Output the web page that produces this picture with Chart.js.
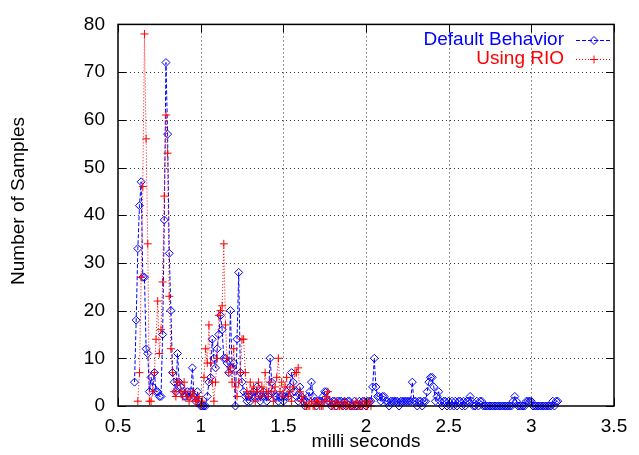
<!DOCTYPE html>
<html lang="en">
<head>
<meta charset="UTF-8">
<title>Default Behavior vs Using RIO</title>
<script src="https://cdn.jsdelivr.net/npm/chart.js"></script>
<style>
  body { margin: 0; background: #fff; }
  #wrap { width: 639px; height: 455px; }
</style>
</head>
<body>
<div id="wrap"><canvas id="chart" width="639" height="455"></canvas></div>
<script>
// histogram bins (milli seconds) and sample counts
const blueTimes = [
  0.60,0.61,0.62,0.63,0.64,0.65,0.66,0.67,0.68,0.69,
  0.70,0.71,0.72,0.73,0.74,0.75,0.76,0.77,0.78,0.79,
  0.80,0.81,0.82,0.83,0.84,0.85,0.86,0.87,0.88,0.89,
  0.90,0.91,0.92,0.93,0.94,0.95,0.96,0.97,0.98,0.99,
  1.00,1.01,1.02,1.03,1.04,1.05,1.06,1.07,1.08,1.09,
  1.10,1.11,1.12,1.13,1.14,1.15,1.16,1.17,1.18,1.19,
  1.20,1.21,1.22,1.23,1.24,1.25,1.26,1.27,1.28,1.29,
  1.30,1.31,1.32,1.33,1.34,1.35,1.36,1.37,1.38,1.39,
  1.40,1.41,1.42,1.43,1.44,1.45,1.46,1.47,1.48,1.49,
  1.50,1.51,1.52,1.53,1.54,1.55,1.56,1.57,1.58,1.59,
  1.60,1.61,1.62,1.63,1.64,1.65,1.66,1.67,1.68,1.69,
  1.70,1.71,1.72,1.73,1.74,1.75,1.76,1.77,1.78,1.79,
  1.80,1.81,1.82,1.83,1.84,1.85,1.86,1.87,1.88,1.89,
  1.90,1.91,1.92,1.93,1.94,1.95,1.96,1.97,1.98,1.99,
  2.00,2.01,2.02,2.03,2.04,2.05,2.06,2.07,2.08,2.09,
  2.10,2.11,2.12,2.13,2.14,2.15,2.16,2.17,2.18,2.19,
  2.20,2.21,2.22,2.23,2.24,2.25,2.26,2.27,2.28,2.29,
  2.30,2.31,2.32,2.33,2.34,2.35,2.36,2.37,2.38,2.39,
  2.40,2.41,2.42,2.43,2.44,2.45,2.46,2.47,2.48,2.49,
  2.50,2.51,2.52,2.53,2.54,2.55,2.56,2.57,2.58,2.59,
  2.60,2.61,2.62,2.63,2.64,2.65,2.66,2.67,2.68,2.69,
  2.70,2.71,2.72,2.73,2.74,2.75,2.76,2.77,2.78,2.79,
  2.80,2.81,2.82,2.83,2.84,2.85,2.86,2.87,2.88,2.89,
  2.90,2.91,2.92,2.93,2.94,2.95,2.96,2.97,2.98,2.99,
  3.00,3.01,3.02,3.03,3.04,3.05,3.06,3.07,3.08,3.09,
  3.10,3.11,3.12,3.13,3.14,3.15,3.16
];
const blueCounts = [
  5,18,33,42,47,27,27,12,11,3,
  6,4,7,3,3,2,2,15,39,72,
  57,32,20,7,5,3,11,5,4,3,
  2,2,3,2,3,8,2,1,3,1,
  0,0,0,0,2,5,6,14,10,8,
  12,15,19,16,10,10,9,7,20,8,
  9,0,14,28,7,5,3,2,1,2,
  1,2,3,2,4,2,1,2,3,2,
  1,2,10,5,3,2,2,1,2,2,
  1,2,3,2,4,7,5,3,2,1,
  4,2,1,0,1,2,3,5,2,1,
  0,1,1,1,2,3,3,1,1,0,
  1,1,0,1,1,1,0,1,0,1,
  1,0,0,1,0,0,1,0,1,1,
  0,1,1,1,4,10,4,2,2,1,
  2,2,1,1,0,1,1,1,1,1,
  0,1,1,1,1,1,1,1,5,1,
  1,0,1,1,0,1,1,3,5,6,
  6,4,1,2,3,1,0,1,1,0,
  1,0,1,0,1,0,1,1,0,1,
  0,1,1,2,1,0,0,1,0,1,
  1,0,0,0,0,0,0,0,0,0,
  0,0,0,0,0,0,0,0,0,1,
  2,1,0,0,0,0,0,1,1,1,
  1,0,0,0,0,0,0,0,0,0,
  0,0,0,1,0,1,1
];
const redTimes = [
  0.62,0.63,0.64,0.65,0.66,0.67,0.68,0.69,
  0.70,0.71,0.72,0.73,0.74,0.75,0.76,0.77,0.78,0.79,
  0.80,0.81,0.82,0.83,0.84,0.85,0.86,0.87,0.88,0.89,
  0.90,0.91,0.92,0.93,0.94,0.95,0.96,0.97,0.98,0.99,
  1.00,1.01,1.02,1.03,1.04,1.05,1.06,1.07,1.08,1.09,
  1.10,1.11,1.12,1.13,1.14,1.15,1.16,1.17,1.18,1.19,
  1.20,1.21,1.22,1.23,1.24,1.25,1.26,1.27,1.28,1.29,
  1.30,1.31,1.32,1.33,1.34,1.35,1.36,1.37,1.38,1.39,
  1.40,1.41,1.42,1.43,1.44,1.45,1.46,1.47,1.48,1.49,
  1.50,1.51,1.52,1.53,1.54,1.55,1.56,1.57,1.58,1.59,
  1.60,1.61,1.62,1.63,1.64,1.65,1.66,1.67,1.68,1.69,
  1.70,1.71,1.72,1.73,1.74,1.75,1.76,1.77,1.78,1.79,
  1.80,1.81,1.82,1.83,1.84,1.85,1.86,1.87,1.88,1.89,
  1.90,1.91,1.92,1.93,1.94,1.95,1.96,1.97,1.98,1.99,
  2.00,2.01,2.02,2.03
];
const redCounts = [
  1,7,27,46,78,56,34,1,
  1,3,7,14,22,11,16,26,44,61,
  53,23,12,7,3,2,5,5,3,2,
  5,3,2,1,2,3,2,1,1,2,
  0,1,6,12,9,17,9,5,1,5,
  10,19,20,21,34,17,10,7,8,5,
  12,4,2,5,7,14,14,7,3,2,
  5,3,4,1,3,5,2,4,3,7,
  3,2,5,3,1,4,6,10,3,5,
  2,4,6,2,3,1,4,7,7,8,
  3,1,2,0,0,0,0,1,0,0,
  1,1,0,0,0,1,2,3,1,0,
  0,0,1,0,0,0,0,1,0,0,
  0,0,0,0,1,0,0,0,0,1,
  0,0,1,0
];
const seriesNames = ["Default Behavior", "Using RIO"];
const xTicks = [0.5, 1, 1.5, 2, 2.5, 3, 3.5];
const xTickLabels = ["0.5", "1", "1.5", "2", "2.5", "3", "3.5"];
const yTicks = [0, 10, 20, 30, 40, 50, 60, 70, 80];
const yTickLabels = ["0", "10", "20", "30", "40", "50", "60", "70", "80"];
const yTitle = "Number of Samples";

const FONT = "'Liberation Sans', Arial, Helvetica, sans-serif";
const BLUE = "#0000ff";
const RED = "#ff0000";

// gnuplot-like frame: dotted grid, border, inward ticks, right-aligned key
const gnuFrame = {
  id: "gnuFrame",
  beforeDatasetsDraw(chart) {
    const { ctx, chartArea: a, scales: { x, y } } = chart;
    ctx.save();
    ctx.strokeStyle = "#333";
    ctx.lineWidth = 1;
    ctx.setLineDash([1, 3]);
    xTicks.forEach(v => {
      const p = Math.round(x.getPixelForValue(v)) + 0.5;
      if (p <= a.left + 2 || p >= a.right - 2) return;
      ctx.beginPath(); ctx.moveTo(p, a.top); ctx.lineTo(p, a.bottom); ctx.stroke();
    });
    yTicks.forEach(v => {
      const p = Math.round(y.getPixelForValue(v)) + 0.5;
      if (p <= a.top + 2 || p >= a.bottom - 2) return;
      ctx.beginPath(); ctx.moveTo(a.left, p); ctx.lineTo(a.right, p); ctx.stroke();
    });
    ctx.restore();
  },
  afterDraw(chart) {
    const { ctx, chartArea: a, scales: { x, y } } = chart;
    ctx.save();
    ctx.strokeStyle = "#000";
    ctx.lineWidth = 1;
    const len = 8;
    xTicks.forEach(v => {
      const p = Math.round(x.getPixelForValue(v)) + 0.5;
      ctx.beginPath();
      ctx.moveTo(p, a.bottom); ctx.lineTo(p, a.bottom - len);
      ctx.moveTo(p, a.top); ctx.lineTo(p, a.top + len);
      ctx.stroke();
    });
    yTicks.forEach(v => {
      const p = Math.round(y.getPixelForValue(v)) + 0.5;
      ctx.beginPath();
      ctx.moveTo(a.left, p); ctx.lineTo(a.left + len, p);
      ctx.moveTo(a.right, p); ctx.lineTo(a.right - len, p);
      ctx.stroke();
    });
    ctx.lineWidth = 1.5;
    ctx.strokeRect(a.left, a.top, a.right - a.left, a.bottom - a.top);

    // y axis title
    ctx.save();
    ctx.translate(19, 201);
    ctx.rotate(-Math.PI / 2);
    ctx.font = "19px " + FONT;
    ctx.fillStyle = "#000";
    ctx.textAlign = "center";
    ctx.textBaseline = "middle";
    ctx.fillText(yTitle, 0, 0);
    ctx.restore();

    // key
    const rows = [
      { name: seriesNames[0], color: BLUE, dash: [4, 2], mark: "diamond", y: 40 },
      { name: seriesNames[1], color: RED, dash: [1, 2], mark: "plus", y: 59 }
    ];
    ctx.font = "19px " + FONT;
    ctx.textAlign = "right";
    ctx.textBaseline = "middle";
    rows.forEach(r => {
      ctx.fillStyle = r.color;
      ctx.fillText(r.name, 564, r.y);
      ctx.strokeStyle = r.color;
      ctx.lineWidth = 1;
      ctx.setLineDash(r.dash);
      ctx.beginPath(); ctx.moveTo(576, r.y + 0.5); ctx.lineTo(612, r.y + 0.5); ctx.stroke();
      ctx.setLineDash([]);
      const cx = 594, cy = r.y + 0.5, s = 4;
      ctx.beginPath();
      if (r.mark === "diamond") {
        ctx.moveTo(cx, cy - s); ctx.lineTo(cx + s, cy); ctx.lineTo(cx, cy + s); ctx.lineTo(cx - s, cy); ctx.closePath();
      } else {
        ctx.moveTo(cx - 4, cy); ctx.lineTo(cx + 4, cy); ctx.moveTo(cx, cy - 4); ctx.lineTo(cx, cy + 4);
      }
      ctx.stroke();
    });
    ctx.restore();
  }
};

const ctx = document.getElementById("chart").getContext("2d");
new Chart(ctx, {
  type: "line",
  data: {
    datasets: [
      {
        label: seriesNames[0],
        data: blueTimes.map((t, i) => ({ x: t, y: blueCounts[i] })),
        borderColor: BLUE,
        borderWidth: 1,
        borderDash: [4, 2],
        pointStyle: "rectRot",
        pointRadius: 4,
        pointBorderWidth: 1,
        pointBorderColor: BLUE,
        pointBackgroundColor: "rgba(0,0,0,0)",
        tension: 0,
        clip: false,
        order: 1
      },
      {
        label: seriesNames[1],
        data: redTimes.map((t, i) => ({ x: t, y: redCounts[i] })),
        borderColor: RED,
        borderWidth: 1,
        borderDash: [1, 2],
        pointStyle: "cross",
        pointRadius: 4,
        pointBorderWidth: 1,
        pointBorderColor: RED,
        pointBackgroundColor: RED,
        tension: 0,
        clip: false,
        order: 0
      }
    ]
  },
  options: {
    responsive: false,
    animation: false,
    events: [],
    layout: { padding: { top: 15, right: 25, left: 0, bottom: 0 } },
    plugins: { legend: { display: false }, tooltip: { enabled: false } },
    scales: {
      x: {
        type: "linear",
        min: 0.5,
        max: 3.5,
        afterBuildTicks: s => { s.ticks = xTicks.map(v => ({ value: v })); },
        afterFit: s => { s.height = 49; },
        grid: { display: false, drawTicks: false },
        border: { display: false },
        ticks: {
          color: "#000",
          padding: 9,
          maxRotation: 0,
          font: { family: FONT, size: 19 },
          callback: (v, i) => xTickLabels[i]
        },
        title: {
          display: true,
          text: "milli seconds",
          color: "#000",
          font: { family: FONT, size: 19 },
          padding: { top: 0, bottom: 2 }
        }
      },
      y: {
        type: "linear",
        min: 0,
        max: 80,
        afterBuildTicks: s => { s.ticks = yTicks.map(v => ({ value: v })); },
        afterFit: s => { s.width = 118; },
        grid: { display: false, drawTicks: false },
        border: { display: false },
        ticks: {
          color: "#000",
          padding: 13,
          font: { family: FONT, size: 19 },
          callback: (v, i) => yTickLabels[i]
        }
      }
    }
  },
  plugins: [gnuFrame]
});
</script>
</body>
</html>
